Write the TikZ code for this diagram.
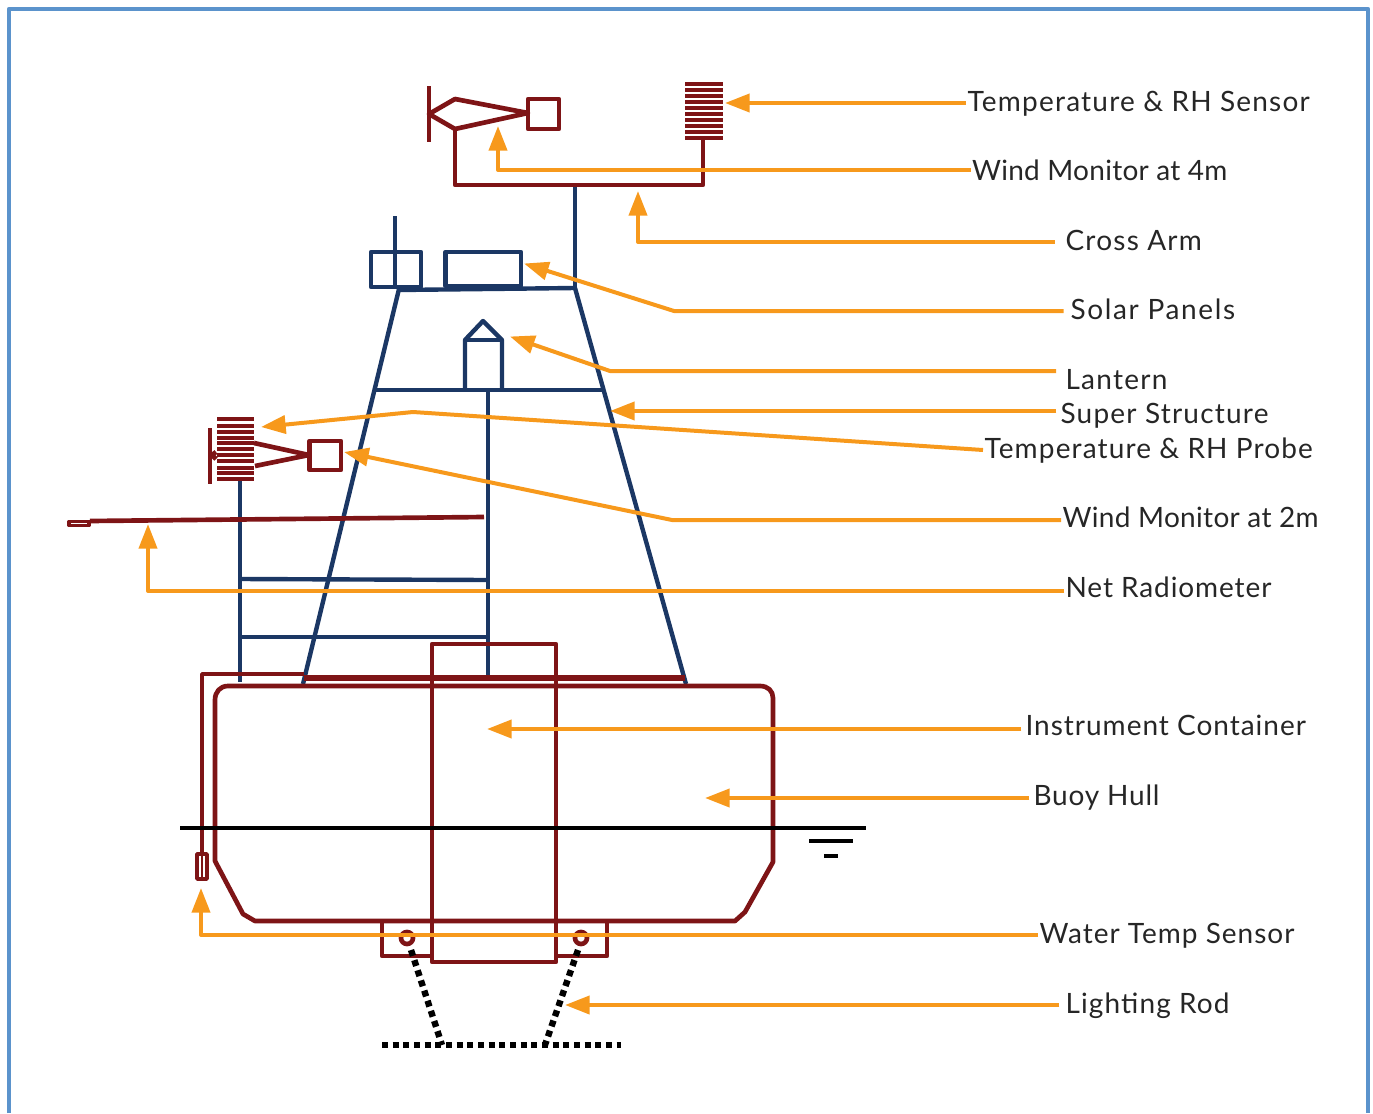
\documentclass[tikz,border=0pt]{standalone}
\usepackage{fontspec}
\setmainfont{Lato}
\usetikzlibrary{arrows.meta}
\definecolor{framecol}{HTML}{5B93CC}
\definecolor{hullcol}{HTML}{7E1416}
\definecolor{mastcol}{HTML}{1B3764}
\definecolor{leadcol}{HTML}{F7991C}
\tikzset{
  hullline/.style={draw=hullcol,line width=3.5pt},
  mastline/.style={draw=mastcol,line width=3.3pt},
  stripeline/.style={draw=hullcol,line width=3.7pt},
  leadline/.style={draw=leadcol,line width=3pt,-{Triangle[length=18.5pt,width=13.5pt]}},
  rodline/.style={draw=black,line width=4.8pt,dash pattern=on 4.6pt off 3.4pt},
  labeltext/.style={anchor=base west,inner sep=1pt,font=\fontsize{21}{24}\selectfont\addfontfeature{LetterSpace=#1},text=black!85},
  labeltext/.default=4,
}
\begin{document}
\begin{tikzpicture}[x=0.75pt,y=-0.75pt,line cap=butt,line join=round]
\useasboundingbox (0,0) rectangle (1373,1113);
\draw[framecol,line width=3.2pt] (9,1113) -- (9,9) -- (1368,9) -- (1368,1113);
\coordinate (hullA) at (215,700);
\coordinate (hullB) at (228,686);
\coordinate (hullC) at (760,686);
\coordinate (hullD) at (773,698);
\coordinate (hullE) at (773,862);
\coordinate (hullF) at (745,912);
\coordinate (hullG) at (735,921);
\coordinate (hullH) at (255,921);
\coordinate (hullI) at (243,914);
\coordinate (hullJ) at (215,861);
% mast and super structure
\draw[mastline] (575,185) -- (575,288);
\draw[mastline] (398,290) -- (575,288);
\draw[mastline] (399,289) -- (303,684);
\draw[mastline] (575,288) -- (686,684);
\draw[mastline] (376,390) -- (604,390);
\draw[mastline] (488,390) -- (488,680);
\draw[mastline] (240,478) -- (240,682);
\draw[mastline] (240,579) -- (488,580);
\draw[mastline] (240,637) -- (488,637);
\draw[mastline] (445.5,252) rectangle (521,286);
\draw[mastline] (371,252) rectangle (421,287);
\draw[mastline] (395,216) -- (395,287);
\draw[mastline] (465,390) -- (465,340) -- (483,321) -- (502,340) -- (502,390);
\draw[mastline] (465,340) -- (502,340);
% upper instruments
\draw[hullline] (429,86) -- (429,142);
\draw[hullline] (528,113) -- (455,99) -- (429,114) -- (455,129) -- cycle;
\draw[hullline] (528,99) rectangle (559,129);
\draw[hullline] (455,129) -- (455,185) -- (703,185) -- (703,139);
\foreach \y in {84,90,96,102,108,114,120,126,132,138}
  \draw[stripeline] (685,\y) -- (723,\y);
% lower instruments
\draw[hullline] (210,428) -- (210,484);
\draw[hullline] (212,455) -- (216,452);
\draw[hullline] (212,455) -- (216,459);
\foreach \y in {419,426,432,438,443,449,455,461,468,473,479}
  \draw[stripeline] (217,\y) -- (254,\y);
\draw[hullline] (254,443) -- (309,455) -- (255,466);
\draw[hullline] (309.5,441) rectangle (341,470);
\draw[hullline] (90,521) -- (484,517);
\draw[draw=hullcol,line width=2.5pt] (69,521.5) rectangle (89,525.5);
% buoy
\draw[hullline] (hullA) .. controls (215,692) and (220,686) .. (hullB) -- (hullC) .. controls (768,686) and (773,691) .. (hullD) -- (hullE) -- (hullF) -- (hullG) -- (hullH) -- (hullI) -- (hullJ) -- cycle;
\draw[hullline] (432,644) rectangle (556,962);
\draw[hullline] (382,921) -- (382,956) -- (432,956);
\draw[hullline] (556,956) -- (607,956) -- (607,921);
\draw[draw=hullcol,line width=2.8pt] (202,854) -- (202,674) -- (304,674);
\draw[draw=hullcol,line width=3.8pt] (304,678) -- (685,678);
\draw[draw=hullcol,line width=2.8pt] (197,854) rectangle (207,879);
\draw[draw=hullcol,line width=1.5pt] (202,854) -- (202,879);
\draw[hullline] (407,938) circle (6);
\draw[hullline] (581,938) circle (6);
\draw[rodline] (411,950) -- (442,1045);
\draw[rodline] (578,950) -- (545,1045);
\draw[rodline] (382,1045) -- (621,1045);
% water line
\draw[black,line width=2.8pt] (180,828) -- (866,828);
\draw[black,line width=2.8pt] (809,841) -- (853,841);
\draw[black,line width=2.8pt] (824,856) -- (838,856);
% labels
\node[labeltext=4.3] (tempSensor) at (966,111) {Temperature \& RH Sensor};
\node[labeltext=1] (windFour) at (970.5,180) {Wind Monitor at 4m};
\node[labeltext=4.4] (crossArm) at (1064,250) {Cross Arm};
\node[labeltext=5.8] (solarPanels) at (1069,319) {Solar Panels};
\node[labeltext=4.5] (lantern) at (1064,389) {Lantern};
\node[labeltext=4.3] (superStruct) at (1059,423) {Super Structure};
\node[labeltext] (tempProbe) at (983,458) {Temperature \& RH Probe};
\node[labeltext=1.2] (windTwo) at (1061,527) {Wind Monitor at 2m};
\node[labeltext=3.2] (netRadio) at (1064,597) {Net Radiometer};
\node[labeltext=3.5] (instCont) at (1024,735) {Instrument Container};
\node[labeltext=2.8] (buoyHull) at (1032,805) {Buoy Hull};
\node[labeltext=3.6] (waterTemp) at (1038,943) {Water Temp Sensor};
\node[labeltext] (lightRod) at (1064,1013) {Lighting Rod};
% leader lines
\coordinate (tempSensorTip) at (725,103);
\coordinate (windFourBend) at (498,170);
\coordinate (windFourTip) at (498,126);
\coordinate (crossArmBend) at (638,242);
\coordinate (crossArmTip) at (638,191);
\coordinate (solarBend) at (674,311);
\coordinate (solarTip) at (524,263.5);
\coordinate (lanternBend) at (610,371);
\coordinate (lanternTip) at (510,336.5);
\coordinate (superTip) at (610,411);
\coordinate (probeBend) at (413,412);
\coordinate (probeTip) at (261,427);
\coordinate (windTwoBend) at (672,520);
\coordinate (windTwoTip) at (344,452);
\coordinate (netBend) at (148,591);
\coordinate (netTip) at (148,524);
\coordinate (instTip) at (487,729);
\coordinate (hullTip) at (705,798);
\coordinate (waterBend) at (201,935);
\coordinate (waterTip) at (201,888);
\coordinate (rodTip) at (565,1005);
\draw[leadline] (tempSensor.west |- tempSensorTip) -- (tempSensorTip);
\draw[leadline] (windFour.west |- windFourBend) -- (windFourBend) -- (windFourTip);
\draw[leadline,shorten <=7pt] (crossArm.west |- crossArmBend) -- (crossArmBend) -- (crossArmTip);
\draw[leadline,shorten <=4pt] (solarPanels.west |- solarBend) -- (solarBend) -- (solarTip);
\draw[leadline,shorten <=6pt] (lantern.west |- lanternBend) -- (lanternBend) -- (lanternTip);
\draw[leadline,shorten <=2pt] (superStruct.west |- superTip) -- (superTip);
\draw[leadline] (tempProbe.west |- 0,450) -- (probeBend) -- (probeTip);
\draw[leadline] (windTwo.west |- windTwoBend) -- (windTwoBend) -- (windTwoTip);
\draw[leadline] (netRadio.west |- netBend) -- (netBend) -- (netTip);
\draw[leadline,shorten <=2pt] (instCont.west |- instTip) -- (instTip);
\draw[leadline,shorten <=2pt] (buoyHull.west |- hullTip) -- (hullTip);
\draw[leadline] (waterTemp.west |- waterBend) -- (waterBend) -- (waterTip);
\draw[leadline,shorten <=3.5pt] (lightRod.west |- rodTip) -- (rodTip);
\end{tikzpicture}
\end{document}
